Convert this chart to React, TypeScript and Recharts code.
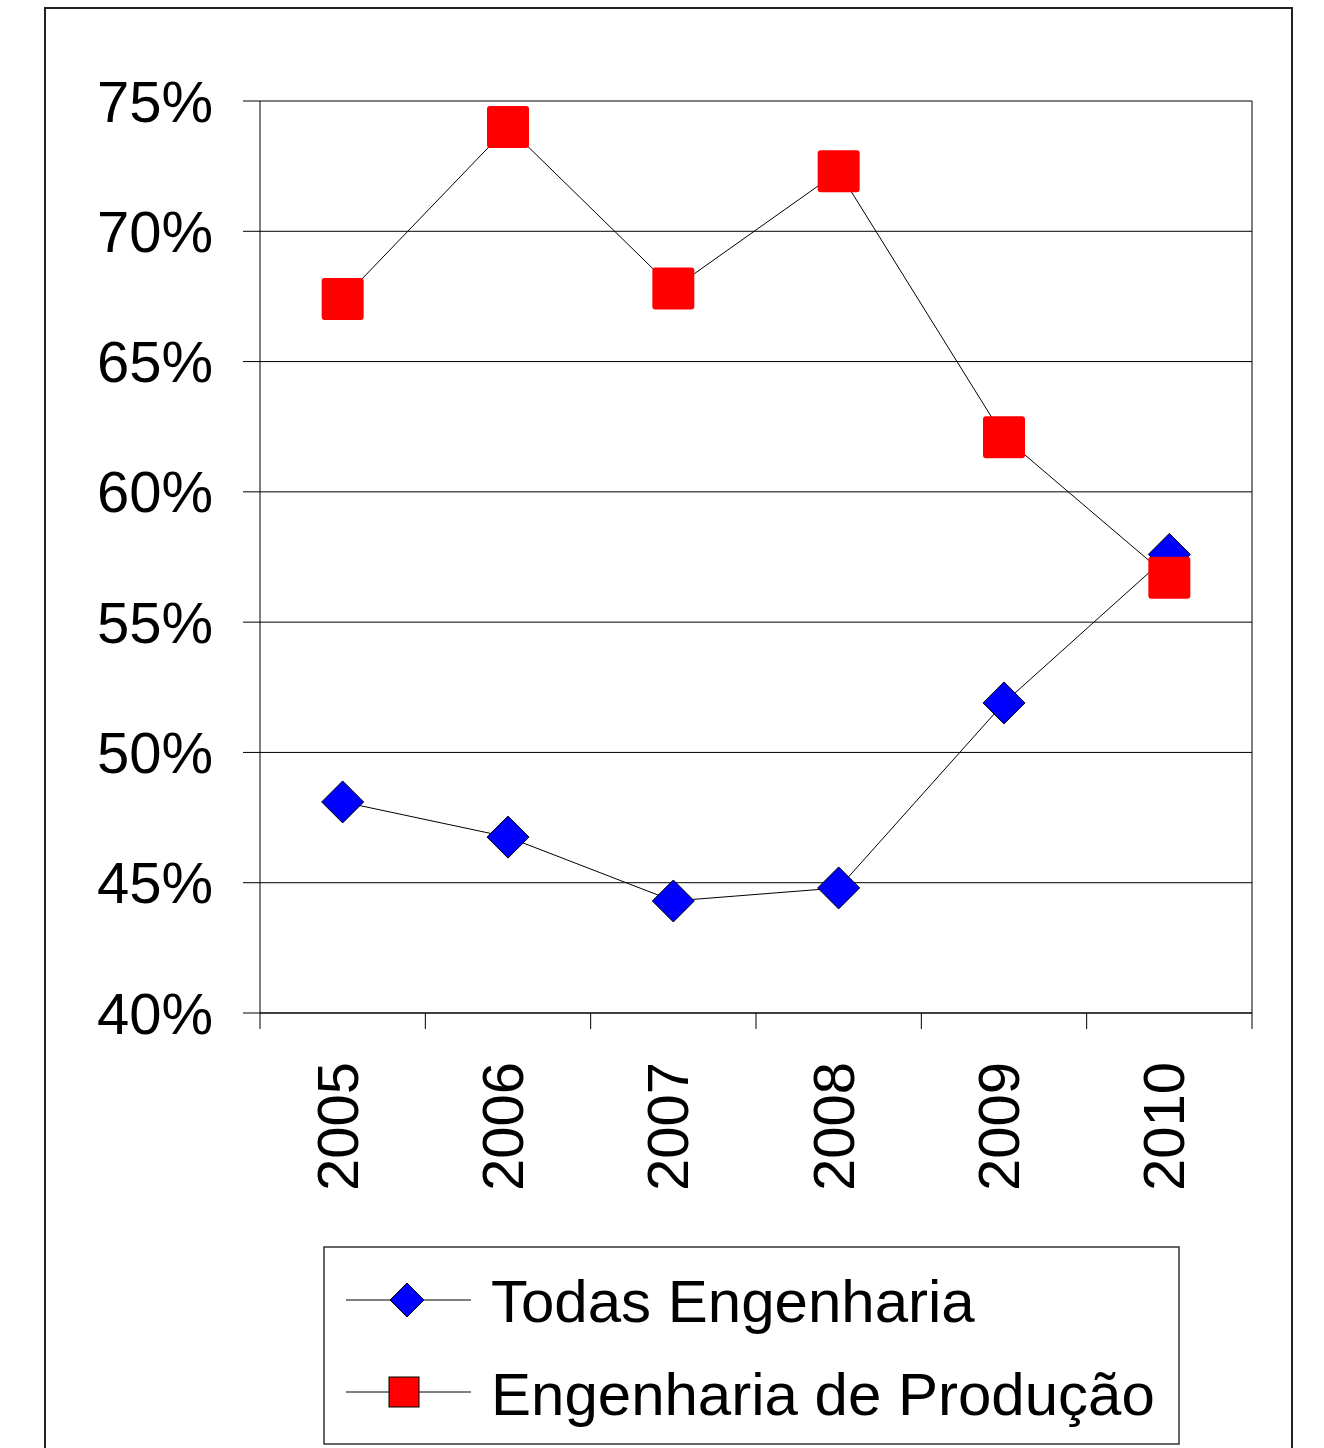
import React from "react";
import { LineChart, Line, XAxis, YAxis, CartesianGrid } from "recharts";

const years = ["2005", "2006", "2007", "2008", "2009", "2010"];
const todasEngenharia = [48.1, 46.75, 44.3, 44.8, 51.9, 57.6];
const engProducao = [67.4, 74.0, 67.8, 72.3, 62.1, 56.7];
const yTicks = [40, 45, 50, 55, 60, 65, 70, 75];

const seriesNames = ["Todas Engenharia", "Engenharia de Produção"];

const data = years.map((year, i) => ({
  year,
  todas: todasEngenharia[i],
  producao: engProducao[i],
}));

const W = 1324;
const H = 1448;
const margin = { top: 101, right: 72, bottom: 235, left: 60 };
const Y_AXIS_W = 200;
const X_AXIS_H = 200;
const PLOT_W = W - margin.left - margin.right - Y_AXIS_W;
const BAND = PLOT_W / years.length;
const FONT = "'Liberation Sans', Arial, sans-serif";

// recharts passes its own r to dots, so the half-size lives in `half`
function Diamond({ cx, cy, half = 21 }: any) {
  if (cx == null || cy == null) return null;
  return (
    <polygon
      points={`${cx},${cy - half} ${cx + half},${cy} ${cx},${cy + half} ${cx - half},${cy}`}
      fill="#0000FF"
      stroke="#000"
      strokeWidth={1}
    />
  );
}

function Square({ cx, cy, side = 42, border = false }: any) {
  if (cx == null || cy == null) return null;
  return (
    <rect
      x={cx - side / 2}
      y={cy - side / 2}
      width={side}
      height={side}
      rx={border ? 0 : 3}
      fill="#FF0000"
      stroke={border ? "#000" : "none"}
      strokeWidth={1}
    />
  );
}

function YearTick({ x, y, payload, index }: any) {
  const left = x - BAND / 2;
  const tx = x + 15;
  const ty = y + 49;
  return (
    <g>
      <line x1={left} x2={left} y1={y} y2={y + 16} stroke="#000" />
      {index === years.length - 1 && (
        <line x1={x + BAND / 2} x2={x + BAND / 2} y1={y} y2={y + 16} stroke="#000" />
      )}
      <text
        x={tx}
        y={ty}
        transform={`rotate(-90, ${tx}, ${ty})`}
        textAnchor="end"
        fontSize={58}
        fontFamily={FONT}
        fill="#000"
      >
        {payload.value}
      </text>
    </g>
  );
}

function ChartLegend() {
  return (
    <svg
      width={857}
      height={199}
      style={{ position: "absolute", left: 323, top: 1246 }}
    >
      <rect x={1} y={1} width={855} height={197} fill="#fff" stroke="#333" strokeWidth={1.5} />
      <line x1={23} x2={148} y1={54} y2={54} stroke="#000" />
      <Diamond cx={84} cy={54} half={17} />
      <text x={168} y={76} fontSize={60} fontFamily={FONT} fill="#000">
        {seriesNames[0]}
      </text>
      <line x1={23} x2={148} y1={146} y2={146} stroke="#000" />
      <Square cx={81} cy={146} side={30} border />
      <text x={168} y={169} fontSize={60} fontFamily={FONT} fill="#000">
        {seriesNames[1]}
      </text>
    </svg>
  );
}

export default function App() {
  return (
    <div
      style={{
        position: "absolute",
        left: 0,
        top: 0,
        width: W,
        height: H,
        overflow: "hidden",
        background: "#fff",
      }}
    >
      <div
        style={{
          position: "absolute",
          left: 44,
          top: 7,
          width: 1245,
          height: 1500,
          border: "2px solid #222",
        }}
      />
      <div style={{ position: "absolute", left: 0, top: 0 }}>
        <LineChart width={W} height={H} data={data} margin={margin}>
          <CartesianGrid
            stroke="#000"
            strokeWidth={1}
            verticalCoordinatesGenerator={({ offset }: any) => [offset.left + offset.width]}
          />
          <XAxis
            dataKey="year"
            scale="band"
            height={X_AXIS_H}
            axisLine={{ stroke: "#000" }}
            tickLine={false}
            tickSize={0}
            tickMargin={0}
            interval={0}
            tick={<YearTick />}
          />
          <YAxis
            width={Y_AXIS_W}
            domain={[40, 75]}
            ticks={yTicks}
            interval={0}
            tickFormatter={(v: number) => `${v}%`}
            axisLine={{ stroke: "#000" }}
            tickLine={{ stroke: "#000" }}
            tickSize={17}
            tickMargin={30}
            tick={{ fontSize: 58, fill: "#000", fontFamily: FONT }}
          />
          <Line
            dataKey="todas"
            name={seriesNames[0]}
            stroke="#000"
            strokeWidth={1}
            dot={<Diamond />}
            isAnimationActive={false}
          />
          <Line
            dataKey="producao"
            name={seriesNames[1]}
            stroke="#000"
            strokeWidth={1}
            dot={<Square />}
            isAnimationActive={false}
          />
        </LineChart>
      </div>
      <ChartLegend />
    </div>
  );
}
